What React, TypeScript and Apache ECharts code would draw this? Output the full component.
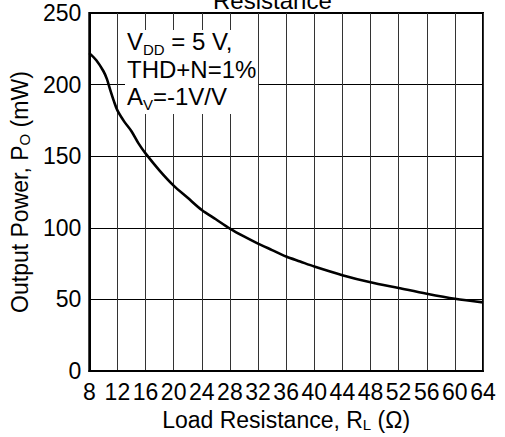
import React, { useEffect, useRef } from "react";
import * as echarts from "echarts";

const resistance = [8, 9, 10, 10.5, 11, 11.5, 12, 13, 14, 15, 16, 18, 20, 22, 24, 26, 28, 30, 32, 34, 36, 38, 40, 44, 48, 52, 56, 60, 64];
const powerMw = [222, 217, 209.5, 204, 196, 188.5, 182, 174, 167.5, 159, 152, 140, 129.5, 121, 112.5, 106, 99.5, 94, 89, 84.5, 80, 76.5, 73, 67, 62, 58, 54, 50.5, 48];
const xMin = 8, xMax = 64, xStep = 4;
const yMin = 0, yMax = 250, yStep = 50;
const titleText = "Resistance";
const xName = "Load Resistance, R{sub|L} (Ω)";
const yName = "Output Power, P{sub|O} (mW)";
const noteText = "V{sub|DD} = 5 V,\nTHD+N=1%\nA{sub|V}=-1V/V";

const FONT = "Arial, 'Liberation Sans', Helvetica, sans-serif";
const FS = 23;

export default function App() {
  const ref = useRef<HTMLDivElement>(null);
  useEffect(() => {
    const chart = echarts.init(ref.current!, null, { renderer: "svg" });
    const sub = { fontSize: 15, fontFamily: FONT, color: "#000", verticalAlign: "bottom", padding: [0, 0, -1, 0] };
    chart.setOption({
      animation: false,
      backgroundColor: "#fff",
      grid: { left: 83, top: 13, right: 22, bottom: 58, show: true, borderColor: "#000", borderWidth: 2, backgroundColor: "transparent" },
      xAxis: {
        type: "value",
        min: xMin,
        max: xMax,
        interval: xStep,
        name: xName,
        nameLocation: "middle",
        nameGap: 36,
        nameTextStyle: { fontSize: FS, fontFamily: FONT, color: "#000", rich: { sub } },
        axisLine: { show: true, lineStyle: { color: "#000", width: 2 } },
        axisTick: { show: false },
        axisLabel: { fontSize: FS, fontFamily: FONT, color: "#000", margin: 9 },
        splitLine: { show: true, lineStyle: { color: "#333", width: 1 } },
      },
      yAxis: {
        type: "value",
        min: yMin,
        max: yMax,
        interval: yStep,
        name: yName,
        nameLocation: "middle",
        nameGap: 52,
        nameRotate: 90,
        nameTextStyle: { fontSize: FS, fontFamily: FONT, color: "#000", rich: { sub } },
        axisLine: { show: true, lineStyle: { color: "#000", width: 2 } },
        axisTick: { show: false },
        axisLabel: { fontSize: FS, fontFamily: FONT, color: "#000", margin: 8 },
        splitLine: { show: true, lineStyle: { color: "#000", width: 1 } },
      },
      series: [
        {
          type: "line",
          data: resistance.map((r, i) => [r, powerMw[i]]),
          smooth: 0.3,
          showSymbol: false,
          lineStyle: { color: "#000", width: 2.6 },
          z: 3,
        },
      ],
      graphic: [
        {
          type: "text",
          left: 283 - 70,
          top: -12,
          style: { text: titleText, font: `24px ${FONT}`, fill: "#000", width: 140, align: "center" },
          z: 10,
        },
        {
          type: "rect",
          shape: { x: 125, y: 30, width: 133, height: 84 },
          style: { fill: "#fff" },
          z: 5,
        },
        {
          type: "text",
          x: 127,
          y: 28,
          style: {
            text: noteText,
            fontSize: 24,
            fontFamily: FONT,
            fill: "#000",
            lineHeight: 27.5,
            rich: { sub: { ...sub, fill: "#000" } },
          },
          z: 6,
        },
      ],
    });
    return () => chart.dispose();
  }, []);
  return <div ref={ref} style={{ position: "fixed", left: 0, top: 0, width: 505, height: 437, background: "#fff" }} />;
}
